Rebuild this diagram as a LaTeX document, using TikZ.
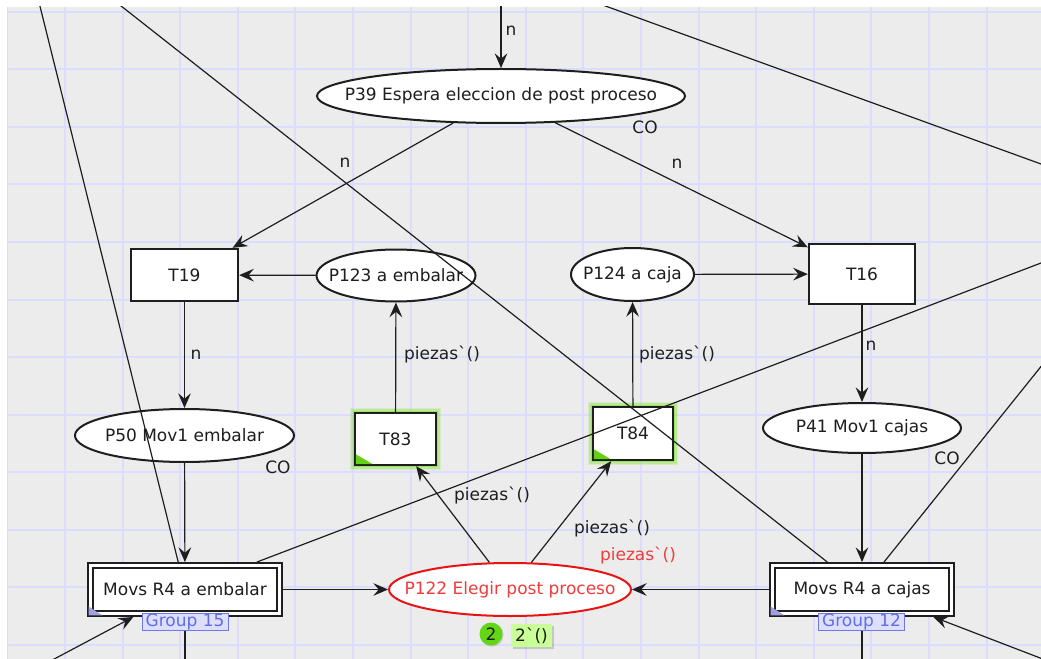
\documentclass[tikz,border=0pt]{standalone}
\usepackage{fontspec}
\setmainfont{DejaVu Sans}[Ligatures=TeXOff]
\usetikzlibrary{arrows.meta,shapes.geometric,calc,shadows}

\definecolor{canvas}{RGB}{236,236,236}
\definecolor{gridblue}{RGB}{220,220,255}
\definecolor{placered}{RGB}{232,20,20}
\definecolor{labelred}{RGB}{240,60,60}
\definecolor{glowgreen}{RGB}{130,225,50}
\definecolor{cornergreen}{RGB}{100,210,20}
\definecolor{groupfill}{RGB}{222,222,255}
\definecolor{groupline}{RGB}{110,120,235}
\definecolor{grouptext}{RGB}{95,110,225}
\definecolor{substcorner}{RGB}{160,160,225}
\definecolor{tokengreen}{RGB}{100,215,20}
\definecolor{markingfill}{RGB}{200,255,150}
\definecolor{ink}{RGB}{30,30,30}

% zero-width text so the ellipse keeps its given size
\newcommand{\ptext}[1]{\makebox[0pt]{#1}}

\begin{document}
\begin{tikzpicture}[x=0.75pt,y=-0.75pt,
  every node/.style={font=\fontsize{12.75}{15}\selectfont, inner sep=0pt, text=ink},
  place/.style={ellipse, draw=ink, line width=1.5pt, fill=white},
  trans/.style={rectangle, draw=ink, line width=1.8pt, fill=white},
  subst/.style={rectangle, draw=ink, fill=white, double=white, line width=1.6pt,
                double distance=2pt, outer sep=2.6pt,
                minimum height=36pt},
  enabled/.style={preaction={draw=glowgreen, line width=8pt, opacity=0.18},
                  preaction={draw=glowgreen, line width=5.5pt, opacity=0.3},
                  preaction={draw=glowgreen, line width=3.5pt, opacity=0.6}},
  arc/.style={line width=0.9pt, draw=ink},
  tip/.style={-{Stealth[length=11pt,width=9.5pt,inset=4pt]}},
  grouplbl/.style={draw=groupline, fill=groupfill, text=grouptext, line width=0.75pt,
                   minimum width=64.5pt, minimum height=12.75pt},
  gridline/.style={draw=gridblue, line width=1.5pt}
]
\useasboundingbox (0,0) rectangle (1041,659);
\fill[white] (0,0) rectangle (1041,659);
\clip (7,7) rectangle (1041,659);
\fill[canvas] (7,7) rectangle (1041,659);

% background grid
\foreach \k in {0,...,18} \draw[gridline] ({7.4+57.6*\k},7) -- ({7.4+57.6*\k},659);
\foreach \k in {0,...,11} \draw[gridline] (7,{12+57.5*\k}) -- (1041,{12+57.5*\k});

% places
\node[place, minimum width=276pt, minimum height=40.5pt] (P39) at (501,96) {\ptext{P39 Espera eleccion de post proceso}};
\node[place, minimum width=119.25pt, minimum height=39pt] (P123) at (396,275.5) {\ptext{P123 a embalar}};
\node[place, minimum width=92.25pt, minimum height=39.75pt] (P124) at (632.5,274.5) {\ptext{P124 a caja}};
\node[place, minimum width=164.25pt, minimum height=39.75pt] (P50) at (184.5,435.5) {\ptext{P50 Mov1 embalar}};
\node[place, minimum width=148.5pt, minimum height=37.5pt] (P41) at (862,428) {\ptext{P41 Mov1 cajas}};
\node[place, draw=placered, text=labelred, minimum width=181.5pt, minimum height=39.75pt] (P122) at (510,589.5) {\ptext{P122 Elegir post proceso}};

% transitions
\node[trans, minimum width=80.25pt, minimum height=39pt] (T19) at (184.5,275) {T19};
\node[trans, minimum width=79.5pt, minimum height=45pt] (T16) at (862,274) {T16};
\node[trans, enabled, minimum width=60.75pt, minimum height=39pt] (T83) at (395.5,439) {T83};
\node[trans, enabled, minimum width=60pt, minimum height=39.75pt] (T84) at (633,433.5) {T84};
\fill[cornergreen] ($(T83.south west)+(2,-2)$) -- ++(0,-10) -- ++(17,10) -- cycle;
\fill[cornergreen] ($(T84.south west)+(2,-2)$) -- ++(0,-10) -- ++(17,10) -- cycle;

% substitution transitions
\node[subst, minimum width=141.75pt] (ME) at (185,589.5) {Movs R4 a embalar};
\node[subst, minimum width=134.25pt] (MC) at (862,589.5) {Movs R4 a cajas};
\fill[substcorner] ($(ME.south west)+(1.5,-1.5)$) -- ++(0,-9) -- ++(14,9) -- cycle;
\fill[substcorner] ($(MC.south west)+(1.5,-1.5)$) -- ++(0,-9) -- ++(14,9) -- cycle;

% loose ends of arcs leaving the visible area
\coordinate (topin) at (501,-40);
\coordinate (a1) at (26,-50);
\coordinate (b1) at (50,-50);
\coordinate (c0) at (451,-50);
\coordinate (c1) at (1100,185.4);
\coordinate (d1) at (1100,240.5);
\coordinate (e1) at (1100,293);
\coordinate (mebot) at (185,700);
\coordinate (mcbot) at (862,700);
\coordinate (f1) at (-23,700);
\coordinate (g1) at (1100,681);

% arcs
\draw[arc,tip] (topin) -- (P39);
\draw[arc,tip] (P39) -- (T19);
\draw[arc,tip] (P39) -- (T16);
\draw[arc,tip] (P123) -- (T19);
\draw[arc,tip] (P124) -- (T16);
\draw[arc,tip] (T83) -- (P123);
\draw[arc,tip] (T84) -- (P124);
\draw[arc,tip] (T19) -- (P50);
\draw[arc,tip] (T16) -- (P41);
\draw[arc,tip] (P50) -- (ME);
\draw[arc,tip] (P41) -- (MC);
\draw[arc,tip] (ME) -- (P122);
\draw[arc,tip] (MC) -- (P122);
\draw[arc,tip] (P122) -- (T83);
\draw[arc,tip] (P122) -- (T84);
\draw[arc] (ME) -- (a1);
\draw[arc] (MC) -- (b1);
\draw[arc] (c0) -- (c1);
\draw[arc] (ME) -- (d1);
\draw[arc] (MC) -- (e1);
\draw[arc] (ME) -- (mebot);
\draw[arc] (MC) -- (mcbot);
\draw[arc,tip] (f1) -- (ME);
\draw[arc,tip] (g1) -- (MC);

% arc inscriptions and place colour sets
\node (n0) at (511,31) {n};
\node (n1) at (345,163) {n};
\node (n2) at (677,164) {n};
\node (n3) at (196,355) {n};
\node (n4) at (871,346) {n};
\node (co39) at (645,127) {CO};
\node (co50) at (278,467) {CO};
\node (co41) at (947,458) {CO};
\node (pz1) at (442,354) {piezas`()};
\node (pz2) at (677,354) {piezas`()};
\node (pz3) at (492,495) {piezas`()};
\node (pz4) at (612,528) {piezas`()};
\node[text=labelred] (pz5) at (638,555) {piezas`()};

% group tags
\node[grouplbl] (g15) at (185,621.5) {Group 15};
\node[grouplbl] (g12) at (861.5,621.5) {Group 12};

% current marking of P122
\node[circle, fill=tokengreen, minimum size=17.25pt,
      drop shadow={shadow xshift=0.8pt, shadow yshift=-0.8pt, opacity=0.3}] (tok) at (491,634) {2};
\node[fill=markingfill, minimum width=30.75pt, minimum height=17.25pt,
      drop shadow={shadow xshift=1.2pt, shadow yshift=-1.2pt, opacity=0.35}] (mark) at (531.5,635.5) {2`()};
\end{tikzpicture}
\end{document}
